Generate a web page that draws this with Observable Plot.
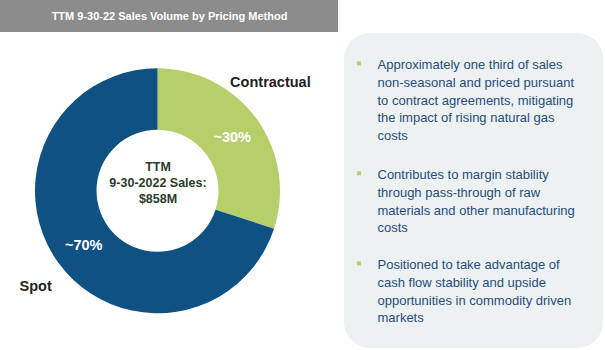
<!DOCTYPE html>
<html>
<head>
<meta charset="utf-8">
<script src="https://cdn.jsdelivr.net/npm/d3@7"></script>
<script src="https://cdn.jsdelivr.net/npm/@observablehq/plot@0.6"></script>
<style>
  html, body { margin: 0; padding: 0; background: #fff; }
  #chart svg { display: block; }
</style>
</head>
<body>
<div id="chart"></div>
<script>
// ---- data ----
const title = "TTM 9-30-22 Sales Volume by Pricing Method";
const categories = ["Contractual", "Spot"];
const shares = [30, 70];
const shareLabels = ["~30%", "~70%"];
const centerLines = ["TTM", "9-30-2022 Sales:", "$858M"];
const bullets = [
  "Approximately one third of sales\nnon-seasonal and priced pursuant\nto contract agreements, mitigating\nthe impact of rising natural gas\ncosts",
  "Contributes to margin stability\nthrough pass-through of raw\nmaterials and other manufacturing\ncosts",
  "Positioned to take advantage of\ncash flow stability and upside\nopportunities in commodity driven\nmarkets"
];

// ---- layout / style ----
const W = 605, H = 350;
const cx = 157.5, cy = 190.8, R = 122.5, r0 = 61;
const colors = {Contractual: "#b7cf6a", Spot: "#0f5182"};
const labelOffset = {Contractual: [-13, -18], Spot: [3, 4]};
const bulletTop = [60, 170, 260];
const font = "Liberation Sans, Arial, Helvetica, sans-serif";

const data = categories.map((c, i) => ({category: c, share: shares[i], label: shareLabels[i]}));
const arcs = d3.pie().sort(null).value(d => d.share)(data);
const arcGen = d3.arc().innerRadius(r0).outerRadius(R);
const polar = (a, rad) => [cx + rad * Math.sin(a), cy - rad * Math.cos(a)];

const pctPts = arcs.map(a => {
  const [dx, dy] = arcGen.centroid(a);
  return {x: cx + dx, y: cy + dy, text: a.data.label};
});
const namePts = arcs.map(a => {
  const m = (a.startAngle + a.endAngle) / 2;
  const [x, y] = polar(m, 155);
  const o = labelOffset[a.data.category];
  return {x: x + o[0], y: y + o[1], text: a.data.category};
});
const bulletData = bullets.map((t, i) => ({text: t, y: bulletTop[i]}));

const donut = (index, scales, values, dimensions, context) => {
  const g = d3.create("svg:g").attr("transform", `translate(${cx},${cy})`);
  g.selectAll("path").data(arcs).join("path")
    .attr("d", arcGen)
    .attr("fill", d => colors[d.data.category]);
  return g.node();
};

const chart = Plot.plot({
  width: W, height: H,
  margin: 0,
  x: {type: "identity", axis: null},
  y: {type: "identity", axis: null},
  style: {fontFamily: font, background: "#fff"},
  marks: [
    // title bar
    Plot.rect([0], {x1: 0, x2: 338, y1: 0, y2: 32, fill: "#8c8c8c"}),
    Plot.text([title], {x: 169, y: 16, text: d => d, fill: "#fff", fontWeight: "bold", fontSize: 11, lineAnchor: "middle"}),
    // right panel
    Plot.rect([0], {x1: 344, x2: 603, y1: 33, y2: 348, fill: "#eef1f1", rx: 26}),
    // donut
    donut,
    // center text
    Plot.text([centerLines.join("\n")], {x: cx, y: cy - 9.5, text: d => d, fill: "#2c3b2c", fontWeight: "bold", fontSize: 12.5, lineHeight: 1.26, lineAnchor: "middle"}),
    // percentage labels
    Plot.text(pctPts, {x: "x", y: "y", text: "text", fill: "#fff", fontWeight: "bold", fontSize: 14.5, lineAnchor: "middle"}),
    // category labels
    Plot.text(namePts, {x: "x", y: "y", text: "text", fill: "#222", fontWeight: "bold", fontSize: 14.5, lineAnchor: "middle"}),
    // bullets
    Plot.rect(bulletData, {x1: 357, x2: 361, y1: d => d.y + 1.3, y2: d => d.y + 5.3, fill: "#b7cf6a"}),
    Plot.text(bulletData, {x: 377, y: d => d.y - 3.5, text: "text", fill: "#1f4e7c", fontSize: 13, lineHeight: 1.35, textAnchor: "start", lineAnchor: "top"})
  ]
});
document.getElementById("chart").appendChild(chart);
</script>
</body>
</html>
